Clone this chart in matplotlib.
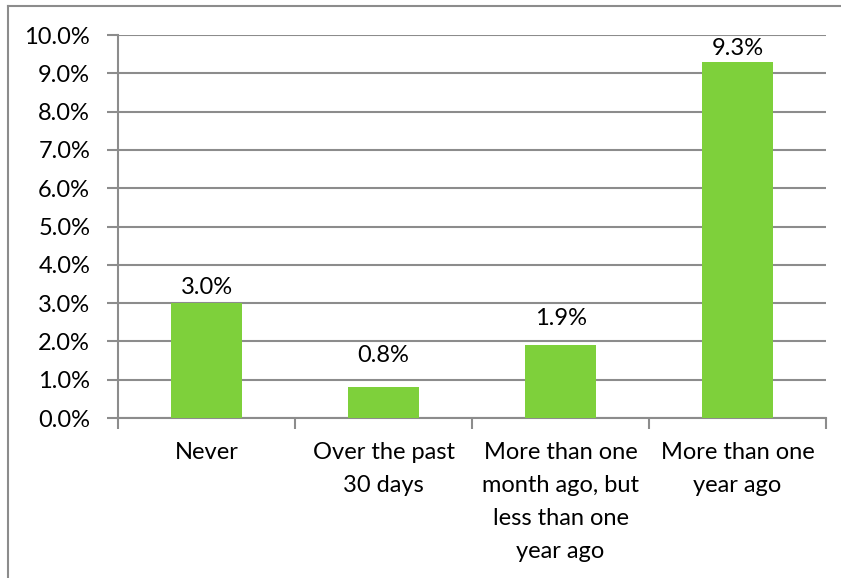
import matplotlib
matplotlib.use("Agg")
import matplotlib.pyplot as plt
from matplotlib.lines import Line2D
from matplotlib.ticker import FuncFormatter, MultipleLocator

categories = ["Never", "Over the past\n30 days",
              "More than one\nmonth ago, but\nless than one\nyear ago",
              "More than one\nyear ago"]
values = [3.0, 0.8, 1.9, 9.3]

BAR = "#7ED03B"
GRID = "#8C8C8C"
FONT = "Lato"
FS = 17
# vertical gap between each bar top and its value label (data units)
label_gap = [0.13, 0.55, 0.42, 0.08]

fig = plt.figure(figsize=(8.41, 5.78), dpi=100)
ax = fig.add_axes([0.1403, 0.2768, 0.8419, 0.6626])

x = list(range(len(categories)))
ax.bar(x, values, width=0.4, color=BAR, zorder=3)
for xi, v, g in zip(x, values, label_gap):
    ax.text(xi, v + g, f"{v:.1f}%", ha="center", va="bottom",
            fontsize=FS, family=FONT, color="black", zorder=4)

ax.set_xlim(-0.5, len(categories) - 0.5)
ax.set_ylim(0, 10)
ax.yaxis.set_major_locator(MultipleLocator(1))
ax.yaxis.set_major_formatter(FuncFormatter(lambda v, p: f"{v:.1f}%"))
ax.grid(axis="y", color=GRID, linewidth=1.5, zorder=0)

# category labels centred, ticks at category boundaries
ax.set_xticks(x)
ax.set_xticklabels(categories, fontsize=FS, family=FONT, linespacing=1.72)
ax.tick_params(axis="x", length=0, pad=17)
ax.set_xticks([i - 0.5 for i in range(len(categories) + 1)], minor=True)
ax.tick_params(axis="x", which="minor", length=8, color=GRID, width=1.5,
               direction="out")
ax.tick_params(axis="y", length=8, color=GRID, width=1.5, labelsize=FS, pad=12)
for lab in ax.get_yticklabels():
    lab.set_family(FONT)

for side in ["top", "right"]:
    ax.spines[side].set_visible(False)
for side in ["left", "bottom"]:
    ax.spines[side].set_color(GRID)
    ax.spines[side].set_linewidth(1.5)

# outer chart frame
fig.add_artist(Line2D([8 / 841, 8 / 841], [0, 1 - 6 / 578],
                      transform=fig.transFigure, color=GRID, lw=1.5))
fig.add_artist(Line2D([8 / 841, 1], [1 - 6 / 578, 1 - 6 / 578],
                      transform=fig.transFigure, color=GRID, lw=1.5))

fig.savefig("out.png", dpi=100)
